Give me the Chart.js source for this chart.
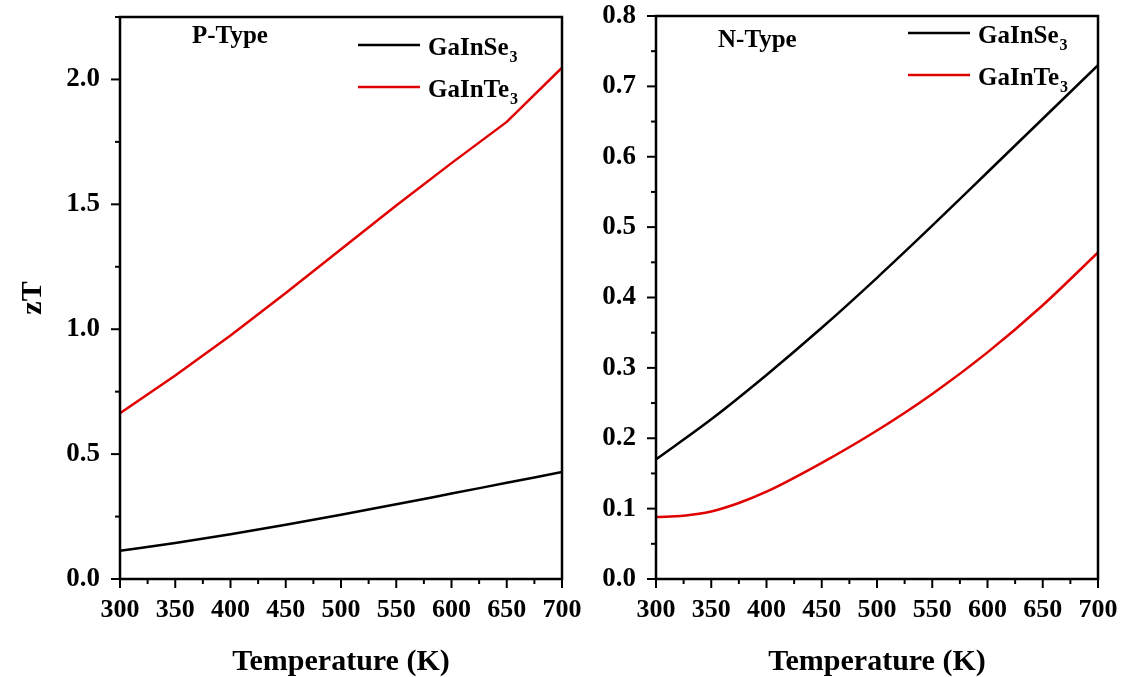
<!DOCTYPE html>
<html>
<head>
<meta charset="utf-8">
<script src="https://cdn.jsdelivr.net/npm/chart.js@4.4.0/dist/chart.umd.min.js"></script>
<style>
  html, body { margin: 0; padding: 0; background: #fff; }
  #wrap { position: relative; width: 1125px; height: 677px; }
  canvas { position: absolute; top: 0; }
</style>
</head>
<body>
<div id="wrap">
  <canvas id="pChart" width="600" height="677" style="left:0"></canvas>
  <canvas id="nChart" width="565" height="677" style="left:560px"></canvas>
</div>
<script>
// temperatures (K)
const temps = [300, 350, 400, 450, 500, 550, 600, 650, 700];
const tempsNTe = [300, 325, 350, 375, 400, 450, 500, 550, 600, 650, 700];

// zT values
const pSe = [0.113, 0.144, 0.179, 0.217, 0.257, 0.299, 0.342, 0.385, 0.428];
const pTe = [0.664, 0.815, 0.975, 1.145, 1.32, 1.495, 1.665, 1.83, 2.047];
const nSe = [0.170, 0.227, 0.290, 0.357, 0.428, 0.502, 0.578, 0.654, 0.730];
const nTe = [0.088, 0.090, 0.096, 0.108, 0.124, 0.165, 0.211, 0.263, 0.322, 0.389, 0.464];

const names = ['GaInSe', 'GaInTe'];
const sub = '3';
const colors = ['#000000', '#e00000'];

const xTicks = [300, 350, 400, 450, 500, 550, 600, 650, 700];
const pYTicks = ['0.0', '0.5', '1.0', '1.5', '2.0'];
const nYTicks = ['0.0', '0.1', '0.2', '0.3', '0.4', '0.5', '0.6', '0.7', '0.8'];

const FONT = "'Liberation Serif', 'Times New Roman', serif";
Chart.defaults.font.family = FONT;
Chart.defaults.font.weight = 'bold';
Chart.defaults.color = '#000';

const pts = (xs, ys) => xs.map((x, i) => ({ x: x, y: ys[i] }));

// frame, minor/major ticks, legend with subscript and panel tag
const decor = {
  id: 'decor',
  afterDraw(chart, args, o) {
    const { ctx, chartArea: a, scales } = chart;
    ctx.save();
    ctx.strokeStyle = '#000';
    ctx.lineWidth = 2.5;
    ctx.strokeRect(a.left, a.top, a.right - a.left, a.bottom - a.top);
    ctx.lineWidth = 2;
    scales.x.ticks.forEach(t => {
      const px = scales.x.getPixelForValue(t.value);
      const len = t.value % 50 === 0 ? 9 : 5;
      ctx.beginPath(); ctx.moveTo(px, a.bottom); ctx.lineTo(px, a.bottom + len); ctx.stroke();
    });
    scales.y.ticks.forEach(t => {
      const py = scales.y.getPixelForValue(t.value);
      const major = Math.abs(t.value / o.yMajor - Math.round(t.value / o.yMajor)) < 1e-6;
      const len = major ? 9 : 5;
      ctx.beginPath(); ctx.moveTo(a.left, py); ctx.lineTo(a.left - len, py); ctx.stroke();
    });

    // panel tag
    ctx.fillStyle = '#000';
    ctx.textBaseline = 'alphabetic';
    ctx.font = 'bold 25px ' + FONT;
    ctx.fillText(o.tag, o.tagX, o.tagY);

    // legend
    chart.data.datasets.forEach((ds, i) => {
      const y = o.legY[i];
      ctx.strokeStyle = ds.borderColor;
      ctx.lineWidth = 2.5;
      ctx.beginPath(); ctx.moveTo(o.legX, y); ctx.lineTo(o.legX + 62, y); ctx.stroke();
      ctx.fillStyle = '#000';
      ctx.font = 'bold 25px ' + FONT;
      const tx = o.legX + 70;
      ctx.fillText(names[i], tx, y + 10);
      const w = ctx.measureText(names[i]).width;
      ctx.font = 'bold 16px ' + FONT;
      ctx.fillText(sub, tx + w + 1, y + 17);
    });
    ctx.restore();
  }
};

function makeChart(id, sets, yMax, yStep, yMajor, yW, yPad, padR, padT, showYTitle, opts) {
  return new Chart(document.getElementById(id), {
    type: 'line',
    data: { datasets: sets },
    options: {
      responsive: false,
      animation: false,
      layout: { padding: { left: 0, right: padR, top: padT, bottom: 0 } },
      plugins: { legend: { display: false }, tooltip: { enabled: false }, decor: opts },
      elements: { point: { radius: 0 }, line: { borderWidth: 2.5 } },
      scales: {
        x: {
          type: 'linear', min: 300, max: 700,
          ticks: {
            stepSize: 25, autoSkip: false, maxRotation: 0, padding: 18,
            font: { size: 26, weight: 'bold', lineHeight: 1 },
            callback: v => xTicks.includes(v) ? String(v) : ''
          },
          grid: { display: false, drawTicks: false },
          border: { display: false },
          title: { display: true, text: 'Temperature (K)', font: { size: 30, weight: 'bold', lineHeight: 1 }, padding: { top: 0, bottom: 0 } },
          afterFit: s => { s.height = 98; s.paddingLeft = 0; s.paddingRight = 0; }
        },
        y: {
          type: 'linear', min: 0, max: yMax,
          ticks: {
            stepSize: yStep, autoSkip: false, padding: yPad,
            font: { size: 27, weight: 'bold', lineHeight: 1 },
            callback: v => {
              const k = Math.round(v / yMajor);
              return Math.abs(v / yMajor - k) < 1e-6 ? (opts.yLabels[k] || '') : '';
            }
          },
          grid: { display: false, drawTicks: false },
          border: { display: false },
          title: { display: showYTitle, text: 'zT', font: { size: 30, weight: 'bold', lineHeight: 1 }, padding: { top: 18, bottom: 0 } },
          afterFit: s => { s.width = yW; s.paddingTop = 0; s.paddingBottom = 0; }
        }
      }
    },
    plugins: [decor]
  });
}

makeChart('pChart', [
  { label: 'GaInSe3', data: pts(temps, pSe), borderColor: colors[0], cubicInterpolationMode: 'monotone' },
  { label: 'GaInTe3', data: pts(temps, pTe), borderColor: colors[1], tension: 0 }
], 2.25, 0.25, 0.5, 120, 20, 38, 17, true,
  { yMajor: 0.5, yLabels: pYTicks, tag: 'P-Type', tagX: 192, tagY: 43, legX: 358, legY: [45, 87] });

makeChart('nChart', [
  { label: 'GaInSe3', data: pts(temps, nSe), borderColor: colors[0], cubicInterpolationMode: 'monotone' },
  { label: 'GaInTe3', data: pts(tempsNTe, nTe), borderColor: colors[1], cubicInterpolationMode: 'monotone' }
], 0.8, 0.05, 0.1, 96, 20, 27, 16, false,
  { yMajor: 0.1, yLabels: nYTicks, tag: 'N-Type', tagX: 158, tagY: 47, legX: 348, legY: [33, 75] });
</script>
</body>
</html>
